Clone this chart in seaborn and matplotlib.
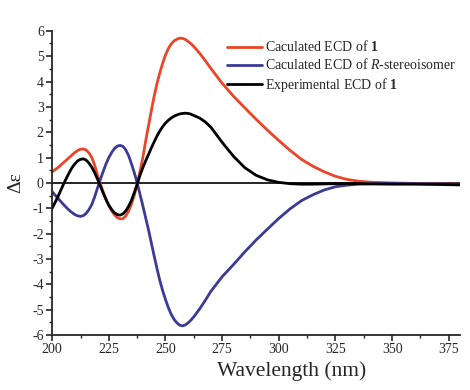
import pandas as pd
import matplotlib.pyplot as plt
import numpy as np
import seaborn as sns

# wavelengths (nm): fine grid over the structured part, coarser in the tail
wavelength = list(np.arange(200, 263, 1.25)) + [265, 267.5, 270, 275, 280, 285, 290, 295, 300,
                                                305, 310, 315, 320, 325, 330, 335, 340,
                                                350, 360, 370, 380]

# Caculated ECD of 1
calc_1 = [0.43, 0.52, 0.6, 0.7, 0.8, 0.9, 1.0, 1.1, 1.2, 1.28, 1.33, 1.34, 1.3, 1.18, 1.0,
          0.7, 0.3, -0.03, -0.35, -0.65, -0.9,
          -1.1, -1.26, -1.37, -1.42, -1.41, -1.3, -1.1, -0.82, -0.47, -0.05, 0.45,
          1.0, 1.65, 2.25, 2.85, 3.42, 3.92, 4.35, 4.72, 5.05, 5.3, 5.48, 5.6, 5.67, 5.71,
          5.7, 5.66, 5.58, 5.49, 5.38,
          5.12, 4.83, 4.52, 3.93, 3.42, 2.96, 2.51, 2.08, 1.67, 1.28, 0.93, 0.66, 0.44, 0.26,
          0.14, 0.07, 0.03, 0.0, -0.02, -0.04, -0.05]

# Caculated ECD of R-stereoisomer
calc_r = [-0.35, -0.48, -0.6, -0.73, -0.85, -0.97, -1.08, -1.17, -1.25, -1.3, -1.32, -1.29,
          -1.2, -1.05, -0.85, -0.55, -0.2, 0.13, 0.45, 0.75, 1.0,
          1.2, 1.36, 1.45, 1.48, 1.44, 1.3, 1.07, 0.75, 0.4, 0.0, -0.45,
          -0.9, -1.38, -1.85, -2.37, -2.88, -3.38, -3.85, -4.25, -4.6, -4.92, -5.18, -5.38,
          -5.52, -5.61, -5.64, -5.6, -5.52, -5.41, -5.28,
          -4.98, -4.64, -4.28, -3.7, -3.22, -2.72, -2.25, -1.82, -1.4, -1.02, -0.7, -0.47,
          -0.28, -0.15, -0.09, -0.05, -0.03, -0.02, -0.03, -0.04, -0.05]

# Experimental ECD of 1
exp_1 = [-1.0, -0.78, -0.55, -0.3, -0.05, 0.18, 0.4, 0.6, 0.75, 0.87, 0.93, 0.95, 0.9,
         0.78, 0.62, 0.4, 0.15, -0.12, -0.4, -0.65, -0.88,
         -1.05, -1.18, -1.25, -1.27, -1.22, -1.1, -0.92, -0.68, -0.38, -0.05, 0.3,
         0.6, 0.87, 1.12, 1.38, 1.62, 1.85, 2.05, 2.22, 2.36, 2.47, 2.56, 2.63, 2.68, 2.72,
         2.74, 2.75, 2.74, 2.71, 2.66,
         2.56, 2.41, 2.2, 1.6, 1.05, 0.6, 0.3, 0.12, 0.02, -0.03, -0.05, -0.05, -0.04,
         -0.03, -0.03, -0.03, -0.04, -0.05, -0.05, -0.06, -0.08]

labels = ['Caculated ECD of $\\mathbf{1}$',
          'Caculated ECD of $\\mathit{R}$-stereoisomer',
          'Experimental ECD of $\\mathbf{1}$']
colors = ['#ec4426', '#3c3a98', '#000000']

df = pd.concat([
    pd.DataFrame({'wl': wavelength, 'de': calc_1, 'curve': labels[0]}),
    pd.DataFrame({'wl': wavelength, 'de': calc_r, 'curve': labels[1]}),
    pd.DataFrame({'wl': wavelength, 'de': exp_1, 'curve': labels[2]}),
])

sns.set_style("ticks")
plt.rcParams['font.family'] = ['Liberation Serif', 'DejaVu Serif']
plt.rcParams['mathtext.fontset'] = 'custom'
plt.rcParams['mathtext.rm'] = 'Liberation Serif'
plt.rcParams['mathtext.it'] = 'Liberation Serif:italic'
plt.rcParams['mathtext.bf'] = 'Liberation Serif:bold'
plt.rcParams['axes.unicode_minus'] = False

fig = plt.figure(figsize=(4.7, 3.9), dpi=100)
ax = fig.add_axes([0.111, 0.141, 0.868, 0.780])

ax.axhline(0, color='black', lw=1.2, zorder=1)
sns.lineplot(data=df, x='wl', y='de', hue='curve', palette=colors, lw=2.0,
             sort=True, ax=ax, zorder=2)

ax.set_xlim(200, 380)
ax.set_ylim(-6, 6)
ax.set_xticks([200, 225, 250, 275, 300, 325, 350, 375])
ax.set_xticks(np.arange(212.5, 380, 25), minor=True)
ax.set_yticks(range(-6, 7))
ax.set_yticks(np.arange(-5.5, 6, 1), minor=True)
ax.tick_params(which='major', length=4, width=1.2, labelsize=10, pad=2)
ax.tick_params(which='minor', length=2.5, width=1.0)
for s in ['left', 'bottom']:
    ax.spines[s].set_linewidth(1.3)
sns.despine(ax=ax)

ax.set_xlabel('Wavelength (nm)', fontsize=15.5)
ax.xaxis.set_label_coords(0.586, -0.085)
ax.set_ylabel('Δε', fontsize=14, labelpad=6)

ax.legend(loc='upper left', bbox_to_anchor=(0.415, 0.99), frameon=False,
          fontsize=10, handlelength=2.5, handletextpad=0.2, labelspacing=0.22,
          borderaxespad=0)

fig.savefig('out.png', dpi=100)
